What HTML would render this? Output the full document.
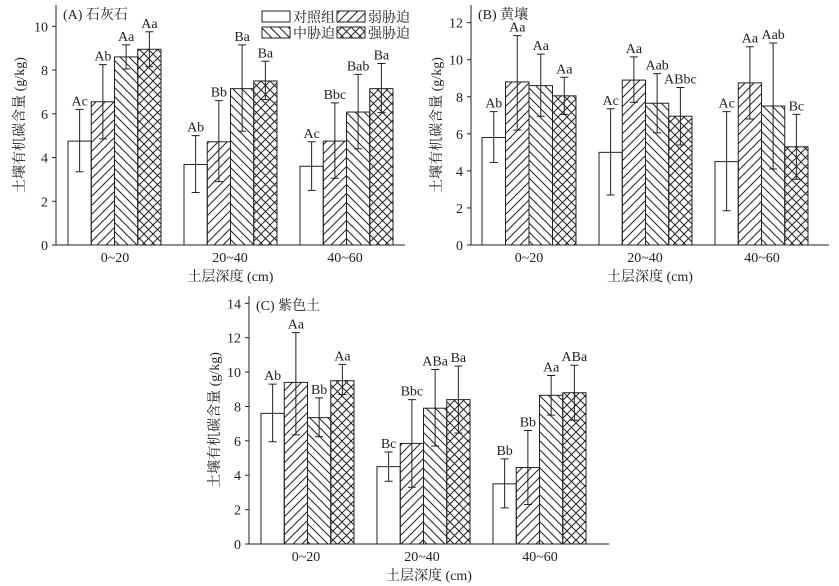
<!DOCTYPE html>
<html><head><meta charset="utf-8">
<style>body{margin:0;background:#fff}svg{display:block}text{font-family:"Liberation Serif","Noto Serif CJK SC",serif;fill:#222}</style>
</head><body>
<svg id="s" width="839" height="586" xmlns="http://www.w3.org/2000/svg">
<defs>
<pattern id="p1" patternUnits="userSpaceOnUse" width="9" height="9"><path d="M-2,2 L2,-2 M0,9 L9,0 M7,11 L11,7" stroke="#222" stroke-width="1"/></pattern>
<pattern id="p2" patternUnits="userSpaceOnUse" width="9" height="9"><path d="M-2,7 L2,11 M0,0 L9,9 M7,-2 L11,2" stroke="#222" stroke-width="1"/></pattern>
<pattern id="p3" patternUnits="userSpaceOnUse" width="9" height="9"><path d="M-2,2 L2,-2 M0,9 L9,0 M7,11 L11,7 M-2,7 L2,11 M0,0 L9,9 M7,-2 L11,2" stroke="#222" stroke-width="1"/></pattern>
</defs>
</svg>
<script>
const S=document.getElementById('s');let h='';
const fills=['#fff','url(#p1)','url(#p2)','url(#p3)'];
function panel(o){
 const {ax,y0,ppu,ymax,top,xend,groups,vals,err,lab,centers,title,tickLY,xlY,ylX}=o;
 const Y=v=>y0-v*ppu;
 groups.forEach((g0,gi)=>{const w=(g0[1]-g0[0])/4;
  for(let i=0;i<4;i++){const x=g0[0]+i*w,v=vals[gi][i],e=err[gi][i],cx=x+w/2;
   h+=`<rect x="${x}" y="${Y(v)}" width="${w}" height="${v*ppu}" fill="${fills[i]}" stroke="#222" stroke-width="1"/>`;
   h+=`<path d="M${cx},${Y(e[0])}V${Y(e[1])}M${cx-4},${Y(e[0])}h8M${cx-4},${Y(e[1])}h8" stroke="#222" stroke-width="1"/>`;
   h+=`<text x="${cx}" y="${Y(e[1])-4}" font-size="14" text-anchor="middle">${lab[gi][i]}</text>`;}
 });
 h+=`<path d="M${ax},${top}V${y0}H${xend}" stroke="#222" fill="none" stroke-width="1"/>`;
 for(let v=0;v<=ymax;v+=2){h+=`<path d="M${ax-4},${Y(v)}H${ax}" stroke="#222"/><text x="${ax-8}" y="${Y(v)+5}" font-size="14" text-anchor="end">${v}</text>`;}
 ['0~20','20~40','40~60'].forEach((t,i)=>{h+=`<text x="${centers[i]}" y="${tickLY}" font-size="14" text-anchor="middle">${t}</text>`;});
 h+=`<text x="${(ax+xend)/2}" y="${xlY}" font-size="14" text-anchor="middle">土层深度 (cm)</text>`;
 h+=`<text transform="translate(${ylX},${(top+y0)/2}) rotate(-90)" font-size="14" text-anchor="middle">土壤有机碳含量 (g/kg)</text>`;
 h+=`<text x="${ax+7}" y="${top+14}" font-size="14">${title}</text>`;
}
panel({ax:56,y0:245,ppu:21.87,ymax:10,top:5,xend:405,groups:[[68,161],[184,277],[300,393]],
 vals:[[4.75,6.55,8.6,8.95],[3.68,4.72,7.15,7.5],[3.6,4.75,6.08,7.15]],
 err:[[[3.35,6.2],[4.85,8.25],[8.05,9.15],[8.15,9.75]],[[2.4,5.0],[2.9,6.6],[5.2,9.15],[6.65,8.4]],[[2.5,4.72],[3.05,6.5],[4.4,7.8],[6.05,8.3]]],
 lab:[['Ac','Ab','Aa','Aa'],['Ab','Bb','Ba','Ba'],['Ac','Bbc','Bab','Ba']],centers:[115,230,345],title:'(A) 石灰石',tickLY:262,xlY:281,ylX:24});
panel({ax:471,y0:245,ppu:18.53,ymax:12,top:5,xend:829,groups:[[482,576],[599,692],[715,808]],
 vals:[[5.8,8.8,8.6,8.05],[5.0,8.9,7.65,6.95],[4.5,8.75,7.5,5.3]],
 err:[[[4.45,7.2],[6.2,11.3],[6.95,10.3],[7.05,9.05]],[[2.7,7.35],[7.7,10.15],[6.05,9.25],[5.4,8.5]],[[1.85,7.2],[6.8,10.7],[4.1,10.9],[3.55,7.05]]],
 lab:[['Ab','Aa','Aa','Aa'],['Ac','Aa','Aab','ABbc'],['Ac','Aa','Aab','Bc']],centers:[529,645,762],title:'(B) 黄壤',tickLY:262,xlY:281,ylX:441});
panel({ax:249,y0:544,ppu:17.19,ymax:14,top:296,xend:609,groups:[[261,354],[377,470],[493,586]],
 vals:[[7.6,9.4,7.35,9.5],[4.5,5.85,7.9,8.4],[3.5,4.45,8.65,8.8]],
 err:[[[5.95,9.3],[6.35,12.3],[6.25,8.5],[8.7,10.45]],[[3.65,5.35],[3.3,8.4],[5.7,10.15],[6.45,10.35]],[[2.1,4.95],[2.3,6.6],[7.5,9.8],[7.2,10.4]]],
 lab:[['Ab','Aa','Bb','Aa'],['Bc','Bbc','ABa','Ba'],['Bb','Bb','Aa','ABa']],centers:[306,422,540],title:'(C) 紫色土',tickLY:561,xlY:580,ylX:219});
[[262,11,0,'对照组'],[337,11,1,'弱胁迫'],[262,27,2,'中胁迫'],[337,27,3,'强胁迫']].forEach(([x,y,i,t])=>{
 h+=`<rect x="${x}" y="${y}" width="28" height="11" fill="${fills[i]}" stroke="#222"/><text x="${x+31}" y="${y+11}" font-size="14">${t}</text>`;});
S.insertAdjacentHTML('beforeend',h);
</script>
</body></html>
